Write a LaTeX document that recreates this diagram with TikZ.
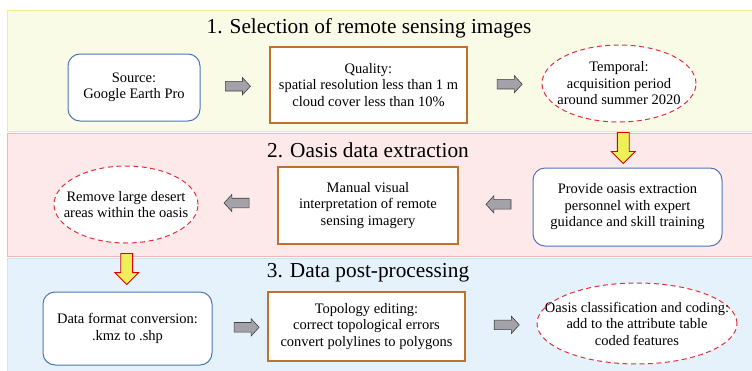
\documentclass[tikz,border=0pt]{standalone}
\usepackage{fontspec}
\setmainfont{Liberation Serif}
\usetikzlibrary{shapes.geometric,shapes.arrows,calc}
\definecolor{pAfill}{HTML}{F9FBE6}
\definecolor{pAline}{HTML}{F0EE90}
\definecolor{pBfill}{HTML}{FDE9E9}
\definecolor{pBline}{HTML}{F5B5B5}
\definecolor{pCfill}{HTML}{E6F2FB}
\definecolor{pCline}{HTML}{CFE4F3}
\definecolor{bluebd}{HTML}{4F75B8}
\definecolor{orangebd}{HTML}{C0712B}
\definecolor{reddash}{HTML}{E0303A}
\definecolor{arrgray}{HTML}{A2A2A8}
\definecolor{arryel}{HTML}{EEF05A}
\tikzset{
  txt/.style={align=center,font=\fontsize{14.5}{16.5}\selectfont,inner sep=0pt},
  ttl/.style={font=\fontsize{21.3}{24}\selectfont,inner sep=0pt},
  rbox/.style={draw=bluebd,fill=white,line width=1pt,rounded corners=12pt,inner sep=0pt},
  sbox/.style={draw=orangebd,fill=white,line width=1.1pt,inner sep=0pt},
  ebox/.style={ellipse,draw=reddash,fill=white,dash pattern=on 5pt off 3.5pt,line width=1pt,inner sep=0pt},
  garrow/.style={single arrow,fill=arrgray,draw=black!75,line width=0.6pt,minimum height=25pt,inner sep=4.5pt,single arrow head extend=3.8pt,single arrow tip angle=95},
  yarrow/.style={single arrow,fill=arryel,draw=red!85!black,line width=0.8pt,minimum height=31pt,inner sep=5.5pt,single arrow head extend=6pt,single arrow tip angle=90,shape border rotate=270},
  panel/.style={line width=0.8pt}
}
\begin{document}
\begin{tikzpicture}[x=1pt,y=-1pt]
\useasboundingbox (0,0) rectangle (752,370);
% panels
\draw[panel,draw=pAline,fill=pAfill] (7,10) rectangle (760,131);
\draw[panel,draw=pBline,fill=pBfill] (7,133) rectangle (760,256);
\draw[panel,draw=pCline,fill=pCfill] (7,258) rectangle (760,380);
% titles
\node[ttl] (t1) at (369,28) {1. Selection of remote sensing images};
\node[ttl] (t2) at (368,150) {2. Oasis data extraction};
\node[ttl] (t3) at (368,273) {3. Data post-processing};
% row 1
\node[rbox,minimum width=132pt,minimum height=67pt] (src) at (134,87.5) {};
\node[txt] at (src) {Source:\\Google Earth Pro};
\node[sbox,minimum width=197pt,minimum height=76pt] (qual) at (368.5,85) {};
\node[txt] at (qual) {Quality:\\spatial resolution less than 1 m\\cloud cover less than 10\%};
\node[ebox,minimum width=154pt,minimum height=77pt] (temp) at (619,83.5) {};
\node[txt] at (temp) {Temporal:\\acquisition period\\around summer 2020};
% row 2
\node[ebox,minimum width=144pt,minimum height=77pt] (remove) at (126,204.5) {};
\node[txt] at (remove) {Remove large desert\\areas within the oasis};
\node[sbox,minimum width=180pt,minimum height=77pt] (manual) at (368,205.5) {};
\node[txt] at (manual) {Manual visual\\interpretation of remote\\sensing imagery};
\node[rbox,minimum width=189pt,minimum height=78pt] (provide) at (627.5,207) {};
\node[txt] at (provide) {Provide oasis extraction\\personnel with expert\\guidance and skill training};
% row 3
\node[rbox,minimum width=169pt,minimum height=73pt] (dfc) at (127.5,328.5) {};
\node[txt] at (dfc) {Data format conversion:\\.kmz to .shp};
\node[sbox,minimum width=197pt,minimum height=69pt] (topo) at (366.5,326.5) {};
\node[txt] at (topo) {Topology editing:\\correct topological errors\\convert polylines to polygons};
\node[ebox,minimum width=200pt,minimum height=81pt] (oasis) at (637,323.5) {};
\node[txt] at (oasis) {Oasis classification and coding:\\add to the attribute table\\coded features};
% block arrows
\node[garrow] (a1) at ($(src.east)!0.51!(qual.west)$) {};
\node[garrow] (a2) at ($(qual.east)!0.54!(temp.west)$) {};
\node[yarrow] (y1) at ($(temp.south)!0.5!(provide.north)$) {};
\node[garrow,shape border rotate=180] (a4) at ($(provide.west)!0.43!(manual.east)+(0,-2)$) {};
\node[garrow,shape border rotate=180] (a3) at ($(manual.west)!0.49!(remove.east)+(0,-2)$) {};
\node[yarrow] (y2) at ($(remove.south)!0.47!(dfc.north)$) {};
\node[garrow] (a5) at ($(dfc.east)!0.58!(topo.west)$) {};
\node[garrow] (a6) at ($(topo.east)!0.55!(oasis.west)$) {};
\end{tikzpicture}
\end{document}
